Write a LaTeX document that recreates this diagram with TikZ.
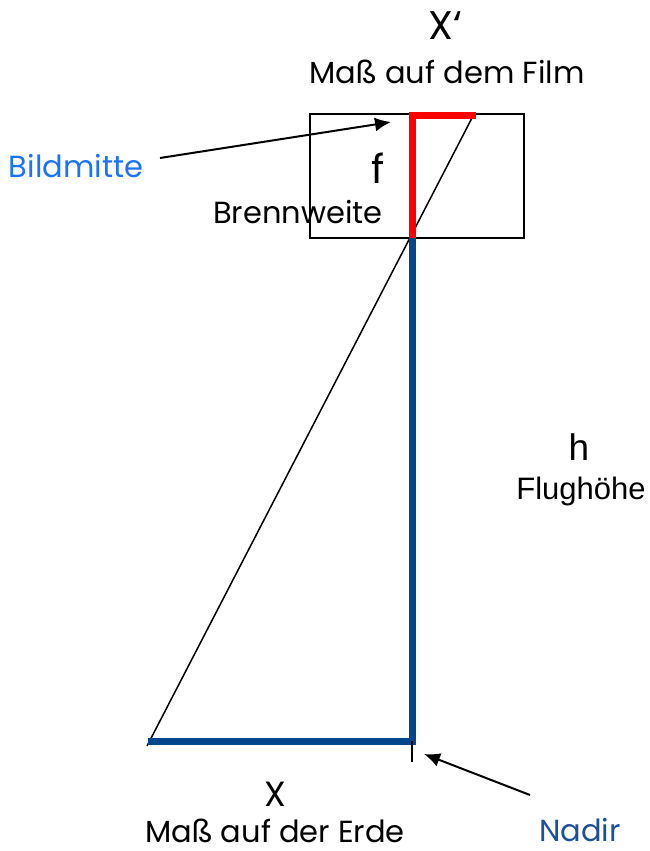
\documentclass[tikz,border=0pt]{standalone}
\usepackage{fontspec}
\setmainfont{Poppins}
\newfontfamily\arialfont{Liberation Sans}
\usepackage{xcolor}
\usetikzlibrary{arrows.meta,positioning}

\definecolor{linienblau}{RGB}{0,70,140}
\definecolor{nadirblau}{RGB}{30,80,150}
\definecolor{hellblau}{RGB}{25,115,255}
\definecolor{filmrot}{RGB}{255,0,0}

\begin{document}
\begin{tikzpicture}[
x=1pt, y=-1pt,
symb/.style={inner sep=0pt, anchor=base, font=\fontsize{40}{44}\selectfont},
capt/.style={inner sep=0pt, anchor=base, font=\fontsize{30.5}{33}\selectfont},
sfsymb/.style={inner sep=0pt, anchor=base, font=\arialfont\fontsize{37}{40}\selectfont},
sfcapt/.style={inner sep=0pt, anchor=base, font=\arialfont\fontsize{31}{34}\selectfont},
zeiger/.style={-{Latex[length=16pt,width=14pt]}, line width=2pt},
strahl/.style={line width=1.5pt},
film/.style={draw, line width=2pt}
]
\useasboundingbox (0,0) rectangle (650,851);

% Kamera und Film
\draw[film] (310,114) rectangle (524,238);
\coordinate (bildmitte) at (412,115);
\coordinate (filmrand) at (476,115);
\coordinate (linse) at (412,238);
\coordinate (nadir) at (412,741);
\coordinate (erdrand) at (148,741);
\coordinate (erdstrahl) at (147,746);
\coordinate (marke) at (412,762);

% Strahl, Flughoehe, Mass auf der Erde
\draw[strahl] (erdstrahl) -- (473,116);
\draw[linienblau, line width=7pt, line join=miter] (linse) -- (nadir) -- (erdrand);
\draw[filmrot, line width=7pt, line join=miter] (linse) -- (bildmitte) -- (filmrand);
\draw[line width=1.5pt] (nadir) -- (marke);

% Beschriftungen
\node[symb] (xfilm) at (445,40) {X‘};
\node[capt] (massfilm) at (447,83) {Maß auf dem Film};
\node[capt, text=hellblau] (bm) at (76,177) {Bildmitte};
\node[symb] (fsym) at (378,183) {f};
\node[capt] (brennw) at (298,223) {Brennweite};
\node[sfsymb] (hsym) at (579,460) {h};
\node[sfcapt] (flugh) at (581,499) {Flughöhe};
\node[symb, font=\fontsize{35}{38}\selectfont] (xerde) at (275,806) {X};
\node[capt] (masserde) at (275,842) {Maß auf der Erde};
\node[capt, text=nadirblau] (nad) at (580,841) {Nadir};

% Zeiger
\coordinate (bmfuss) at (160,158);
\coordinate (bmspitze) at (391,122);
\coordinate (nadfuss) at (530,795);
\coordinate (nadirspitze) at (424,754);
\draw[zeiger] (bmfuss) -- (bmspitze);
\draw[zeiger] (nadfuss) -- (nadirspitze);
\end{tikzpicture}
\end{document}
